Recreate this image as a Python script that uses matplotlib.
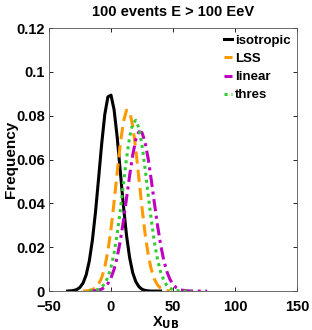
import numpy as np
import matplotlib
matplotlib.use('Agg')
import matplotlib.pyplot as plt

nan = np.nan

# x grid of the histograms (X_UB), step 2.5
x_ub = np.arange(-35, 80, 2.5)

isotropic = [0.0000, 0.0001, 0.0003, 0.0007, 0.0017, 0.0037, 0.0074, 0.0137, 0.0232, 0.0360,
             0.0514, 0.0672, 0.0806, 0.0886, 0.0894, 0.0827, 0.0702, 0.0546, 0.0390, 0.0255,
             0.0153, 0.0084, 0.0043, 0.0020, 0.0008, 0.0003, 0.0001, 0.0000, 0.0000, 0.0000,
             0.0000, nan, nan, nan, nan, nan, nan, nan, nan, nan,
             nan, nan, nan, nan, nan, nan]
lss = [nan, nan, nan, nan, nan, 0.0000, 0.0001, 0.0003, 0.0007, 0.0015,
       0.0032, 0.0061, 0.0110, 0.0183, 0.0283, 0.0406, 0.0542, 0.0671, 0.0772, 0.0825,
       0.0819, 0.0755, 0.0647, 0.0514, 0.0380, 0.0261, 0.0166, 0.0098, 0.0054, 0.0028,
       0.0013, 0.0006, 0.0002, 0.0001, nan, nan, nan, nan, nan, nan,
       nan, nan, nan, nan, nan, nan]
linear = [nan, nan, nan, nan, nan, nan, nan, nan, 0.0001, 0.0002,
          0.0004, 0.0009, 0.0018, 0.0034, 0.0060, 0.0099, 0.0155, 0.0229, 0.0319, 0.0422,
          0.0526, 0.0620, 0.0691, 0.0727, 0.0723, 0.0679, 0.0603, 0.0506, 0.0401, 0.0300,
          0.0212, 0.0142, 0.0090, 0.0054, 0.0030, 0.0016, 0.0008, 0.0004, 0.0002, 0.0001,
          0.0000, 0.0000, 0.0000, 0.0000, 0.0000, 0.0000]
thres = [nan, nan, nan, nan, nan, nan, nan, 0.0001, 0.0002, 0.0004,
         0.0008, 0.0018, 0.0034, 0.0063, 0.0108, 0.0173, 0.0261, 0.0369, 0.0488, 0.0604,
         0.0702, 0.0764, 0.0779, 0.0744, 0.0666, 0.0559, 0.0439, 0.0324, 0.0223, 0.0144,
         0.0088, 0.0050, 0.0026, 0.0013, 0.0006, 0.0003, 0.0001, 0.0000, 0.0000, 0.0000,
         0.0000, nan, nan, nan, nan, nan]

plt.rcParams['font.family'] = ['Liberation Sans', 'DejaVu Sans']
plt.rcParams['font.weight'] = 'bold'
plt.rcParams['axes.labelweight'] = 'bold'
plt.rcParams['axes.titleweight'] = 'bold'

fig = plt.figure(figsize=(3.12, 3.3), dpi=100)
ax = fig.add_axes([0.157, 0.118, 0.795, 0.797])

ax.plot(x_ub, isotropic, color='black', lw=2.2, ls='-', label='isotropic')
ax.plot(x_ub, lss, color='#ff9900', lw=2.2, ls=(0, (4, 2)), label='LSS')
ax.plot(x_ub, linear, color='#c000c0', lw=2.2, ls=(0, (4, 1.5, 1, 1.5)), label='linear')
ax.plot(x_ub, thres, color='#33cc33', lw=2.2, ls=(0, (1, 1.3)), label='thres')

ax.set_xlim(-50, 150)
ax.set_ylim(0, 0.12)
ax.set_xticks([-50, 0, 50, 100, 150])
ax.set_yticks([0, 0.02, 0.04, 0.06, 0.08, 0.1, 0.12])
ax.set_yticklabels(['0', '0.02', '0.04', '0.06', '0.08', '0.1', '0.12'])
ax.tick_params(direction='in', top=True, right=True, labelsize=10.5, length=3, width=0.6)
ax.tick_params(axis='x', pad=6.5)
ax.tick_params(axis='y', pad=3)
for s in ax.spines.values():
    s.set_linewidth(0.6)
    s.set_color('#555555')

ax.set_title('100 events E > 100 EeV', fontsize=10.5, pad=9)
ax.set_xlabel('X$_{\\mathbf{UB}}$', fontsize=10.5)
ax.xaxis.set_label_coords(0.47, -0.088, transform=ax.transAxes)
ax.xaxis.label.set_va('top')
ax.set_ylabel('Frequency', fontsize=11)
ax.yaxis.set_label_coords(-0.125, 0.5, transform=ax.transAxes)

leg = ax.legend(loc='upper right', frameon=False, fontsize=9.5, handlelength=0.6,
                handletextpad=0.2, labelspacing=0.45, borderaxespad=0.1)

fig.savefig('out.png', dpi=100)
